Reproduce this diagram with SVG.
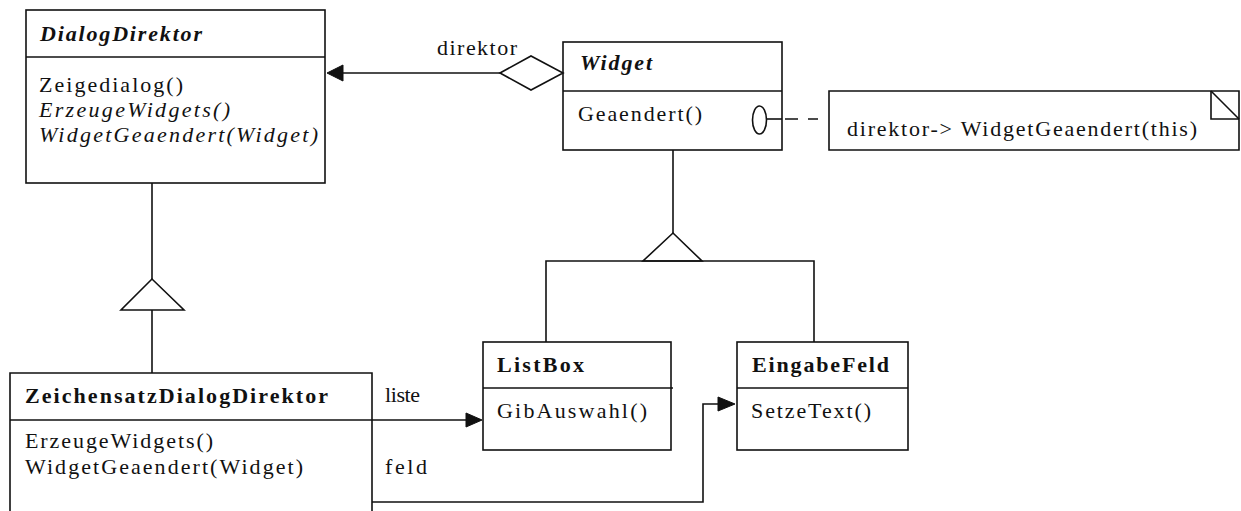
<svg xmlns="http://www.w3.org/2000/svg" width="1241" height="511" viewBox="0 0 1241 511">
  <style>
    .box { fill: #fff; stroke: #111; stroke-width: 1.6; }
    .ln { fill: none; stroke: #111; stroke-width: 1.6; }
    .dash { fill: none; stroke: #111; stroke-width: 1.6; stroke-dasharray: 13 10; }
    .head { fill: #111; stroke: #111; stroke-width: 1; }
    .hollow { fill: #fff; stroke: #111; stroke-width: 1.6; }
    text { font-family: "Liberation Serif", "Times New Roman", serif; font-size: 22px; fill: #111; }
    .title { font-weight: bold; }
    .abs { font-weight: bold; font-style: italic; }
    .it { font-style: italic; }
  </style>

  <rect width="1241" height="511" fill="#fff"/>

  <!-- DialogDirektor -->
  <g id="DialogDirektor">
    <rect class="box" x="26" y="10" width="299" height="173"/>
    <line class="ln" x1="26" y1="57" x2="325" y2="57"/>
    <text class="abs" x="40" y="41" textLength="162" lengthAdjust="spacing">DialogDirektor</text>
    <text x="39" y="92" textLength="144" lengthAdjust="spacing">Zeigedialog()</text>
    <text class="it" x="39" y="117" textLength="191" lengthAdjust="spacing">ErzeugeWidgets()</text>
    <text class="it" x="39" y="142" textLength="279" lengthAdjust="spacing">WidgetGeaendert(Widget)</text>
  </g>

  <!-- Widget -->
  <g id="Widget">
    <rect class="box" x="563" y="42" width="219" height="108"/>
    <line class="ln" x1="563" y1="91" x2="782" y2="91"/>
    <text class="abs" x="580" y="70" textLength="72" lengthAdjust="spacing">Widget</text>
    <text x="578" y="121" textLength="124" lengthAdjust="spacing">Geaendert()</text>
    <!-- implementation marker on Geaendert() -->
    <ellipse class="ln" cx="759.5" cy="120" rx="7" ry="14"/>
    <line class="ln" x1="767" y1="119" x2="782" y2="119"/>
  </g>

  <!-- note attached to Geaendert() -->
  <g id="note">
    <path class="box" d="M829,91 H1239 V150 H829 Z"/>
    <polyline class="ln" points="1211,91 1211,119 1239,119"/>
    <line class="ln" x1="1211" y1="91" x2="1239" y2="119"/>
    <text x="847" y="136" textLength="350" lengthAdjust="spacing">direktor-&gt; WidgetGeaendert(this)</text>
  </g>

  <!-- ZeichensatzDialogDirektor (open at the bottom edge) -->
  <g id="ZeichensatzDialogDirektor">
    <path class="box" d="M10,520 V373 H372 V520"/>
    <line class="ln" x1="10" y1="420" x2="372" y2="420"/>
    <text class="title" x="25" y="403" textLength="303" lengthAdjust="spacing">ZeichensatzDialogDirektor</text>
    <text x="25" y="448" textLength="188" lengthAdjust="spacing">ErzeugeWidgets()</text>
    <text x="25" y="474" textLength="278" lengthAdjust="spacing">WidgetGeaendert(Widget)</text>
  </g>

  <!-- ListBox -->
  <g id="ListBox">
    <rect class="box" x="483" y="342" width="188" height="108"/>
    <line class="ln" x1="483" y1="388" x2="673" y2="388"/>
    <text class="title" x="497" y="372" textLength="87" lengthAdjust="spacing">ListBox</text>
    <text x="497" y="418" textLength="150" lengthAdjust="spacing">GibAuswahl()</text>
  </g>

  <!-- EingabeFeld -->
  <g id="EingabeFeld">
    <rect class="box" x="737" y="342" width="171" height="108"/>
    <line class="ln" x1="737" y1="388" x2="908" y2="388"/>
    <text class="title" x="752" y="372" textLength="137" lengthAdjust="spacing">EingabeFeld</text>
    <text x="751" y="418" textLength="120" lengthAdjust="spacing">SetzeText()</text>
  </g>

  <!-- connectors -->
  <g id="connectors">
    <!-- aggregation Widget -> DialogDirektor -->
    <line class="ln" x1="340" y1="73" x2="500" y2="73"/>
    <polygon class="head" points="327,73 343,65 343,81"/>
    <polygon class="hollow" points="500,73 531,56 563,73 531,90"/>
    <text x="437" y="55" textLength="80" lengthAdjust="spacing">direktor</text>

    <!-- inheritance ZeichensatzDialogDirektor -> DialogDirektor -->
    <line class="ln" x1="152" y1="183" x2="152" y2="279"/>
    <polygon class="hollow" points="152,279 121,310 184,310"/>
    <line class="ln" x1="152" y1="310" x2="152" y2="373"/>

    <!-- inheritance ListBox / EingabeFeld -> Widget -->
    <line class="ln" x1="673" y1="150" x2="673" y2="233"/>
    <polygon class="hollow" points="673,233 643,261 702,261"/>
    <polyline class="ln" points="546,342 546,261 814,261 814,342"/>

    <!-- liste -->
    <line class="ln" x1="372" y1="420" x2="468" y2="420"/>
    <polygon class="head" points="482,420 466,413 466,427"/>
    <text x="385" y="402" textLength="35" lengthAdjust="spacing">liste</text>

    <!-- feld -->
    <polyline class="ln" points="372,502 703,502 703,404 720,404"/>
    <polygon class="head" points="735,404 718,397 718,411"/>
    <text x="385" y="474" textLength="42" lengthAdjust="spacing">feld</text>

    <!-- dashed link from Geaendert() to the note -->
    <line class="dash" x1="785" y1="119" x2="818" y2="119"/>
  </g>
</svg>
